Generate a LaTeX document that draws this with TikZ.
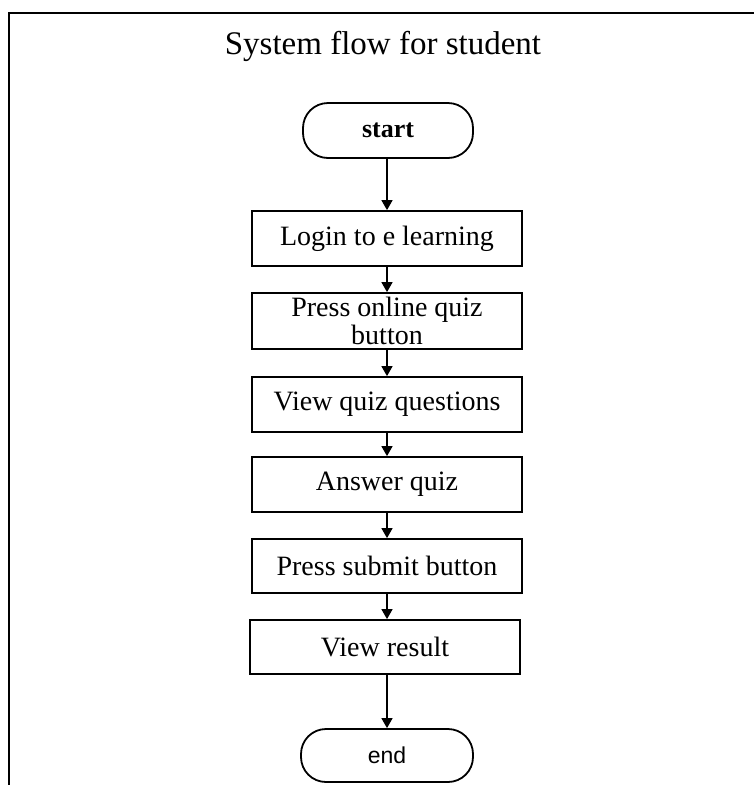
\documentclass[tikz,border=0pt]{standalone}
\usepackage{fontspec}
\setmainfont{Liberation Serif}
\newfontfamily\labelsans{Liberation Sans}
\usetikzlibrary{arrows.meta}

\tikzset{
  stepbox/.style={draw, line width=1.8pt, minimum width=270pt, minimum height=55pt,
    inner sep=0pt, align=center, font=\fontsize{28}{28}\selectfont},
  terminal/.style={draw, line width=1.8pt, rounded corners=25pt, inner sep=0pt,
    minimum height=55pt},
  flow/.style={line width=1.6pt, -{Triangle[length=10pt,width=11pt]}},
  frameline/.style={line width=2.2pt}
}

\begin{document}
\begin{tikzpicture}[x=1pt,y=-1pt]
  \useasboundingbox (0,0) rectangle (754,785);

  % open frame: top rule and left rule
  \coordinate (fTL) at (9,13);
  \coordinate (fTR) at (754,13);
  \coordinate (fBL) at (9,785);
  \draw[frameline] (fTR) -- (fTL) -- (fBL);

  % heading
  \node[font=\fontsize{33}{36}\selectfont] (title) at (383,46) {System flow for student};

  % flow steps
  \node[terminal, minimum width=170pt, font=\fontsize{26}{28}\selectfont\bfseries] (start) at (388,130.5) {start};
  \node[stepbox] (login) at (387,238.5) {Login to e learning};
  \node[stepbox, minimum height=56pt] (quizbtn) at (387,321) {Press online quiz\\button};
  \node[stepbox] (viewq) at (387,404.5) {View quiz questions};
  \node[stepbox] (answer) at (387,484.5) {Answer quiz};
  \node[stepbox, minimum height=54pt] (submit) at (387,566) {Press submit button};
  \node[stepbox, minimum height=54pt] (result) at (385,647) {View result};
  \node[terminal, minimum width=172pt, minimum height=53pt, font=\labelsans\fontsize{23}{26}\selectfont] (end) at (387,755.5) {end};

  % connectors
  \draw[flow] (start.south -| login.north) -- (login.north);
  \draw[flow] (login) -- (quizbtn);
  \draw[flow] (quizbtn) -- (viewq);
  \draw[flow] (viewq) -- (answer);
  \draw[flow] (answer) -- (submit);
  \draw[flow] (submit.south) -- (submit.south |- result.north);
  \draw[flow] (result.south -| end.north) -- (end.north);
\end{tikzpicture}
\end{document}
